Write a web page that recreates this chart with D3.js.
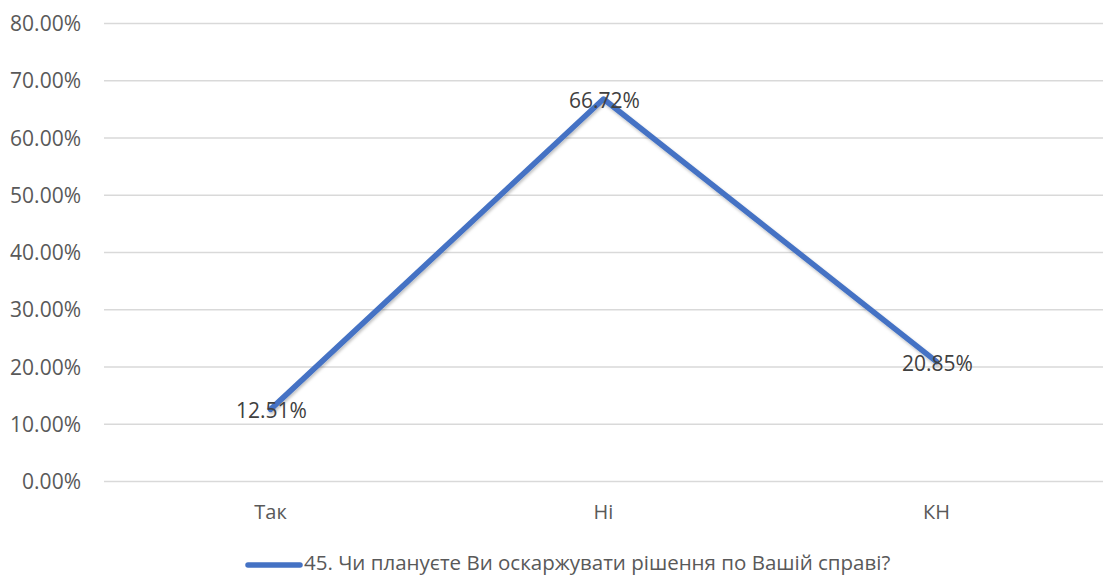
<!DOCTYPE html>
<html><head><meta charset="utf-8">
<script src="https://cdn.jsdelivr.net/npm/d3@7"></script>
<style>body{margin:0;background:#fff;} text{font-family:"Open Sans","Noto Sans",sans-serif;}</style>
</head><body>
<svg id="c" width="1104" height="576"></svg>
<script>
const categories = ["Так", "Ні", "КН"];
const values = [12.51, 66.72, 20.85];
const yTicks = [0, 10, 20, 30, 40, 50, 60, 70, 80];
const seriesName = "45. Чи плануєте Ви оскаржувати рішення по Вашій справі?";

const svg = d3.select("#c");
const pLeft = 104, pRight = 1103, pTop = 23, pBottom = 481;
const x = d3.scaleBand().domain(categories).range([pLeft, pRight]);
const y = d3.scaleLinear().domain([0, 80]).range([pBottom, pTop]);

const defs = svg.append("defs");
const f = defs.append("filter").attr("id","sh").attr("x","-10%").attr("y","-10%").attr("width","120%").attr("height","120%");
f.append("feDropShadow").attr("dx",1).attr("dy",2).attr("stdDeviation",1.5).attr("flood-color","#000").attr("flood-opacity",0.25);

const yAxis = d3.axisLeft(y).tickValues(yTicks).tickSize(-(pRight-pLeft)).tickFormat(d => d.toFixed(2) + "%");
const gy = svg.append("g").attr("transform", `translate(${pLeft},0)`).call(yAxis);
gy.select(".domain").remove();
gy.selectAll(".tick line").attr("stroke", "#d9d9d9").attr("stroke-width", 1.3);
gy.selectAll(".tick text").attr("x", -23).attr("dy", "0.36em").attr("fill", "#595959").attr("font-size", "21px");

const xAxis = d3.axisBottom(x).tickSize(0);
const gx = svg.append("g").attr("transform", `translate(0,${pBottom})`).call(xAxis);
gx.select(".domain").remove();
gx.selectAll(".tick text").attr("dy", 0).attr("y", 38).attr("fill", "#595959").attr("font-size", "20px");

const line = d3.line().x((d,i) => x(categories[i]) + x.bandwidth()/2).y(d => y(d));
svg.append("path").datum(values).attr("d", line).attr("fill","none")
  .attr("stroke","#4472C4").attr("stroke-width",5.5).attr("stroke-linejoin","round").attr("stroke-linecap","round")
  .attr("filter","url(#sh)");

svg.selectAll(".lbl").data(values).enter().append("text")
  .attr("x", (d,i) => x(categories[i]) + x.bandwidth()/2 + 1)
  .attr("y", d => y(d) + 9)
  .attr("text-anchor","middle").attr("fill","#404040").attr("font-size","21px")
  .text(d => d.toFixed(2) + "%");

const lg = svg.append("g");
lg.append("line").attr("x1",248).attr("x2",300).attr("y1",565).attr("y2",565)
  .attr("stroke","#4472C4").attr("stroke-width",5.5).attr("stroke-linecap","round");
lg.append("text").attr("x",304).attr("y",570).attr("fill","#595959").attr("font-size","20.5px").text(seriesName);
</script>
</body></html>
